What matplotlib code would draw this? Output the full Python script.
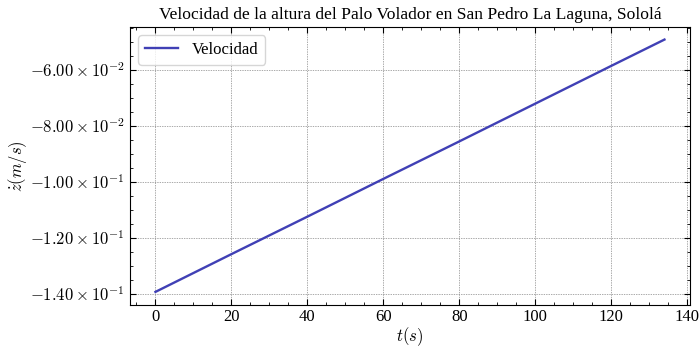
import numpy as np
import matplotlib
matplotlib.use('Agg')
import matplotlib.pyplot as plt
from matplotlib.ticker import FuncFormatter, MultipleLocator, AutoMinorLocator

# --- Data ---
t = [0, 20, 40, 60, 80, 100, 120, 134]
z_dot = [-0.1393, -0.1258, -0.1124, -0.0989, -0.0855, -0.0720, -0.0585, -0.0491]

plt.rcParams['font.family'] = ['Liberation Serif', 'DejaVu Serif']
plt.rcParams['mathtext.fontset'] = 'cm'
plt.rcParams['font.size'] = 12


def sci_fmt(val, pos):
    mant, exp = f"{val:.2e}".split('e')
    return r"$%s \times 10^{%d}$" % (mant, int(exp))


fig, ax = plt.subplots(figsize=(6.99, 3.5), dpi=100)
ax.plot(t, z_dot, color='#4040B5', lw=1.7, label='Velocidad')

ax.set_title('Velocidad de la altura del Palo Volador en San Pedro La Laguna, Sololá', fontsize=12.6)
ax.set_xlabel(r'$t(s)$', labelpad=0)
ax.set_ylabel(r'$\dot{z}(m/s)$', labelpad=1)

ax.xaxis.set_major_locator(MultipleLocator(20))
ax.xaxis.set_minor_locator(AutoMinorLocator(4))
ax.yaxis.set_major_locator(MultipleLocator(0.02))
ax.yaxis.set_minor_locator(AutoMinorLocator(4))
ax.yaxis.set_major_formatter(FuncFormatter(sci_fmt))

ax.tick_params(which='both', direction='in', top=True, right=True)
ax.tick_params(which='major', length=4)
ax.tick_params(which='minor', length=2)
ax.grid(True, which='major', ls=(0, (2, 1.5)), lw=0.5, color='#888888')

ax.legend(loc='upper left', fancybox=True, framealpha=0.8)

fig.subplots_adjust(left=0.186, right=0.987, top=0.923, bottom=0.13)
fig.savefig('out.png')
